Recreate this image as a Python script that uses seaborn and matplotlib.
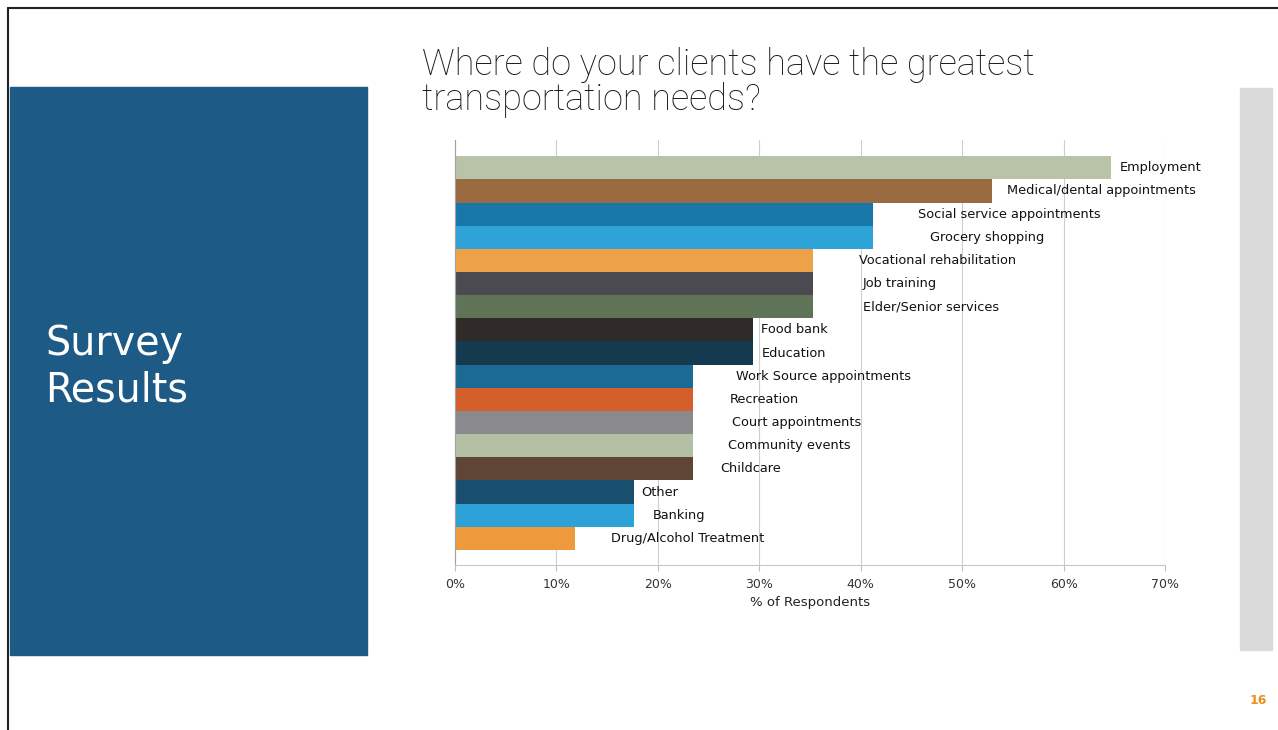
import numpy as np
import pandas as pd
import matplotlib.pyplot as plt
import seaborn as sns
from matplotlib.patches import Rectangle
from matplotlib.lines import Line2D

# Survey answers, n = 17 respondents
needs = [
    "Employment", "Medical/dental appointments", "Social service appointments",
    "Grocery shopping", "Vocational rehabilitation", "Job training",
    "Elder/Senior services", "Food bank", "Education", "Work Source appointments",
    "Recreation", "Court appointments", "Community events", "Childcare",
    "Other", "Banking", "Drug/Alcohol Treatment",
]
share = [0.647, 0.529, 0.412, 0.412, 0.353, 0.353, 0.353, 0.294, 0.294,
         0.235, 0.235, 0.235, 0.235, 0.235, 0.176, 0.176, 0.118]
bar_colors = [
    "#b9c3a8", "#9a6a41", "#1677a8", "#2ea3d8", "#eda24a", "#4a4a50",
    "#5f7357", "#302a28", "#15394f", "#1b6a93", "#d45f2a", "#8a8a8e",
    "#b3c0a3", "#5e4535", "#184f6e", "#2da2d8", "#ee9a3c",
]
# data labels were dragged around by hand in the original deck
label_dx = [0.008, 0.015, 0.044, 0.056, 0.045, 0.049, 0.049, 0.008, 0.008,
            0.042, 0.036, 0.038, 0.034, 0.027, 0.008, 0.019, 0.036]
xticks = [0, 0.1, 0.2, 0.3, 0.4, 0.5, 0.6, 0.7]

df = pd.DataFrame({"need": needs, "share": share})

sns.set_style("white")
plt.rcParams["font.family"] = ["DejaVu Sans"]

fig = plt.figure(figsize=(12.78, 7.3), dpi=100)
W, H = 1278, 730

def px(x0, y0, x1, y1):
    return (x0 / W, 1 - y1 / H, (x1 - x0) / W, (y1 - y0) / H)

# slide decorations
l, b, w, h = px(10, 87, 367, 655)
fig.patches.append(Rectangle((l, b), w, h, transform=fig.transFigure,
                             color="#1e5a86", zorder=0))
l, b, w, h = px(1240, 88, 1272, 650)
fig.patches.append(Rectangle((l, b), w, h, transform=fig.transFigure,
                             color="#dadada", zorder=0))
fig.lines.append(Line2D([8 / W, 8 / W], [0, 1 - 8 / H], transform=fig.transFigure,
                        color="#222222", lw=1.5))
fig.lines.append(Line2D([8 / W, 1], [1 - 8 / H, 1 - 8 / H], transform=fig.transFigure,
                        color="#222222", lw=1.5))

fig.text(45 / W, 1 - 324 / H, "Survey\nResults", color="white", fontsize=28.5,
         va="top", ha="left", linespacing=1.2)
fig.text(422 / W, 1 - 47 / H, "Where do your clients have the greatest\ntransportation needs?",
         color="#1a1a1a", fontsize=26, va="top", ha="left", linespacing=0.98,
         family=["Roboto", "DejaVu Sans"], fontweight="light")
fig.text(1258 / W, 1 - 701 / H, "16", color="#e8901c", fontsize=9,
         fontweight="bold", ha="center", va="center")

ax = fig.add_axes(px(455, 140, 1165, 565))
sns.barplot(data=df, x="share", y="need", hue="need", palette=bar_colors,
            width=1.0, saturation=1, legend=False, ax=ax, zorder=2, linewidth=0)

for i, (name, v, dx) in enumerate(zip(needs, share, label_dx)):
    ax.text(v + dx, i, name, va="center", ha="left", fontsize=9.3,
            color="#111111", zorder=3)

ax.set_xlim(0, 0.7)
ax.set_ylim(16.5 + 0.65, -0.5 - 0.7)
ax.set_xticks(xticks)
ax.set_xticklabels([f"{int(round(t * 100))}%" for t in xticks], fontsize=9, color="#333333")
ax.set_yticks([])
ax.set_ylabel("")
ax.set_xlabel("% of Respondents", fontsize=9.5, color="#222222", labelpad=4)
ax.grid(axis="x", color="#cfcfcf", lw=0.8, zorder=0)
ax.set_axisbelow(True)
ax.tick_params(axis="x", bottom=True, length=4, color="#bfbfbf", pad=5)
for s in ["top", "right"]:
    ax.spines[s].set_visible(False)
ax.spines["bottom"].set_color("#c8c8c8")
ax.spines["left"].set_color("#a0a0a0")

fig.savefig("out.png", dpi=100)
